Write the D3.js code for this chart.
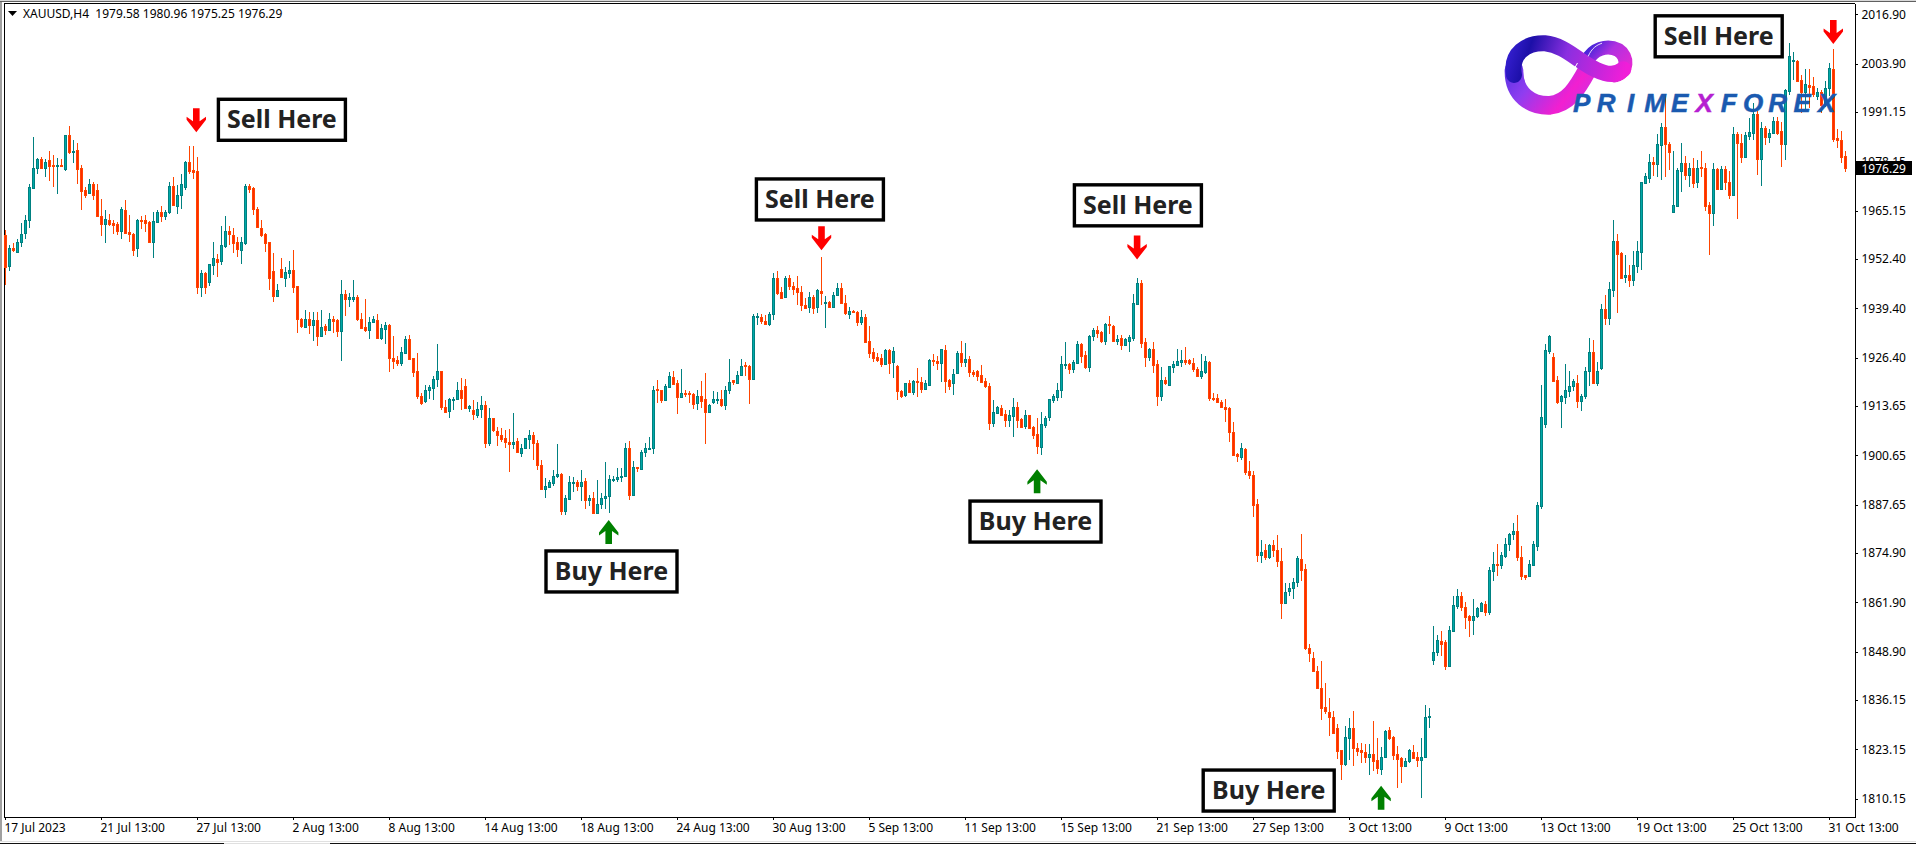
<!DOCTYPE html>
<html>
<head>
<meta charset="utf-8">
<title>XAUUSD,H4</title>
<script src="https://cdn.jsdelivr.net/npm/d3@7"></script>
<style>
html, body { margin: 0; padding: 0; background: #fff; overflow: hidden; }
svg { display: block; }
.axis text { font-family: "Noto Sans", sans-serif; font-size: 12px; fill: #000; }
.axis line, .axis path { stroke: #000; shape-rendering: crispEdges; }
</style>
</head>
<body>
<svg id="canvas"></svg>
<script>
let opens = [
1958.7,1950.6,1955.3,1954.3,1956.9,1959.3,1962.8,1971.0,1976.3,1978.7,
1976.5,1978.5,1977.3,1977.0,1977.3,1976.0,1985.1,1980.6,1981.1,1976.3,
1970.7,1969.9,1972.3,1970.7,1963.8,1961.5,1962.8,1962.0,1961.6,1959.8,
1965.3,1959.4,1959.1,1955.2,1962.7,1962.7,1962.1,1956.8,1962.1,1964.7,
1963.8,1964.8,1971.6,1966.3,1969.3,1971.4,1977.9,1975.8,1975.5,1945.1,
1948.8,1946.4,1950.8,1952.5,1951.9,1955.8,1959.7,1958.7,1956.9,1954.7,
1956.6,1971.6,1971.0,1965.6,1960.7,1958.9,1956.9,1949.2,1942.7,1949.9,
1947.4,1948.6,1949.6,1945.2,1936.7,1934.5,1936.7,1935.1,1936.2,1932.2,
1934.7,1933.7,1936.5,1936.2,1933.5,1943.1,1941.9,1941.8,1942.3,1936.7,
1934.4,1933.7,1935.9,1936.2,1931.6,1934.0,1934.9,1926.4,1925.7,1925.0,
1927.7,1931.2,1926.2,1922.8,1916.4,1915.0,1917.9,1918.5,1920.8,1922.8,
1913.5,1912.4,1915.3,1915.5,1918.0,1918.8,1913.2,1912.7,1911.3,1912.9,
1914.0,1903.9,1910.4,1907.2,1905.9,1905.3,1904.3,1903.7,1904.5,1901.3,
1902.6,1905.0,1905.9,1904.0,1898.2,1891.8,1892.2,1893.4,1895.1,1895.8,
1886.0,1889.1,1893.4,1893.7,1892.6,1894.0,1888.9,1889.3,1885.5,1887.8,
1889.4,1890.0,1894.1,1894.3,1895.0,1895.1,1902.7,1890.2,1897.6,1897.1,
1901.6,1902.4,1902.6,1918.1,1917.8,1915.2,1918.7,1921.4,1919.6,1916.1,
1917.2,1917.1,1916.9,1914.5,1916.2,1915.4,1912.1,1914.7,1915.2,1915.6,
1913.9,1918.0,1920.4,1919.8,1921.9,1924.4,1924.3,1920.8,1937.2,1937.2,
1936.1,1935.2,1938.0,1947.3,1943.7,1942.4,1947.3,1945.4,1944.7,1943.6,
1940.4,1939.8,1942.5,1939.8,1944.1,1940.8,1941.2,1939.7,1943.0,1944.7,
1940.9,1937.9,1938.7,1938.4,1935.8,1937.1,1930.7,1928.0,1926.5,1926.3,
1924.7,1928.4,1925.3,1924.3,1917.7,1916.6,1919.6,1917.3,1920.2,1920.1,
1918.2,1919.2,1925.9,1925.6,1924.9,1928.5,1920.4,1919.8,1922.3,1927.6,
1925.2,1926.0,1922.7,1922.8,1921.8,1920.2,1918.9,1909.2,1911.8,1913.1,
1911.5,1909.9,1911.1,1913.3,1910.2,1908.3,1911.2,1908.1,1906.2,1902.9,
1908.7,1910.7,1915.2,1916.1,1917.8,1924.5,1924.7,1923.4,1925.0,1929.9,
1927.1,1924.0,1932.1,1933.6,1933.1,1930.7,1935.2,1934.7,1930.9,1931.7,
1929.7,1930.8,1931.6,1940.5,1946.0,1930.4,1926.5,1928.6,1924.6,1916.2,
1920.4,1919.2,1923.9,1924.4,1925.2,1925.9,1925.7,1925.1,1923.5,1921.5,
1922.5,1925.2,1915.9,1915.9,1914.8,1913.5,1913.1,1906.7,1900.9,1900.2,
1902.4,1896.4,1895.6,1887.8,1874.5,1875.8,1873.8,1876.9,1875.8,1872.9,
1861.7,1864.8,1865.7,1867.2,1873.4,1870.8,1850.0,1847.3,1843.9,1839.4,
1834.2,1833.1,1831.8,1828.9,1822.9,1819.2,1826.2,1828.9,1823.6,1823.1,
1822.5,1821.1,1822.0,1820.3,1818.0,1821.1,1828.2,1826.3,1821.9,1820.8,
1818.9,1820.1,1822.5,1821.2,1820.4,1821.1,1831.7,1846.6,1848.8,1851.8,
1851.4,1845.0,1854.4,1860.9,1863.7,1860.8,1858.2,1857.3,1858.2,1859.5,
1861.6,1859.3,1870.1,1872.1,1871.7,1874.0,1877.3,1879.9,1880.8,1873.8,
1869.0,1868.8,1871.7,1876.8,1887.2,1908.9,1928.2,1926.7,1920.4,1915.0,
1916.1,1917.7,1919.0,1919.8,1915.0,1916.3,1922.9,1927.8,1919.8,1923.6,
1939.1,1936.8,1944.2,1957.1,1954.1,1947.6,1948.1,1946.8,1950.5,1954.3,
1972.5,1973.8,1977.9,1977.5,1982.5,1987.2,1982.6,1964.8,1966.4,1975.6,
1977.6,1974.5,1976.3,1972.8,1976.6,1976.3,1966.6,1964.4,1976.0,1970.9,
1976.0,1972.8,1969.3,1985.3,1983.0,1979.4,1984.8,1985.7,1990.6,1978.8,
1987.0,1984.5,1985.7,1988.9,1986.2,1982.8,1996.8,2004.5,2004.6,1999.7,
1996.4,1998.4,1998.0,1995.4,1996.3,1993.4,1997.4,2002.4,1984.2,1983.8,1979.58
];

let closes = [
1950.4,1955.2,1954.7,1956.9,1959.1,1962.8,1971.3,1976.3,1978.7,1976.5,
1978.1,1977.0,1977.0,1977.3,1977.0,1985.1,1980.7,1980.8,1976.0,1970.4,
1969.4,1972.3,1969.3,1963.8,1961.5,1962.9,1961.7,1961.4,1959.8,1965.5,
1959.3,1959.1,1954.9,1962.7,1962.5,1961.9,1956.9,1962.3,1964.9,1963.8,
1964.9,1971.6,1966.6,1969.4,1972.3,1977.9,1975.6,1975.4,1945.1,1948.8,
1945.1,1951.0,1952.8,1951.7,1956.0,1959.8,1959.0,1956.7,1955.0,1956.9,
1971.6,1970.9,1965.5,1960.8,1958.7,1956.7,1947.4,1942.7,1944.2,1947.7,
1948.9,1949.6,1945.1,1936.6,1934.8,1936.7,1935.1,1936.2,1932.2,1934.6,
1933.7,1936.5,1936.1,1933.5,1943.3,1941.9,1942.5,1942.3,1936.6,1934.3,
1933.7,1935.9,1936.5,1931.5,1934.1,1934.9,1926.4,1925.6,1925.0,1927.8,
1931.2,1926.0,1922.7,1916.3,1914.5,1918.0,1918.6,1920.9,1922.8,1913.4,
1912.1,1915.4,1915.6,1918.0,1915.8,1913.2,1913.6,1911.6,1913.0,1914.0,
1903.9,1910.4,1907.3,1906.0,1905.0,1904.2,1903.7,1904.3,1901.5,1902.7,
1905.1,1905.9,1904.0,1898.1,1891.7,1892.7,1893.5,1895.3,1895.8,1886.0,
1889.3,1893.5,1893.6,1892.7,1893.7,1888.9,1889.3,1885.5,1887.9,1889.5,
1890.0,1894.3,1894.5,1895.0,1895.3,1902.7,1890.2,1897.7,1897.2,1901.6,
1902.7,1902.7,1918.0,1917.9,1915.3,1918.8,1921.5,1919.4,1916.1,1917.2,
1916.7,1916.9,1914.3,1916.2,1915.0,1912.1,1914.0,1915.4,1915.6,1913.9,
1918.0,1920.1,1919.9,1921.9,1924.3,1924.1,1920.8,1937.3,1937.3,1936.1,
1935.3,1938.0,1947.3,1943.5,1942.1,1947.3,1945.3,1944.5,1943.6,1940.2,
1939.6,1942.5,1939.5,1944.2,1943.5,1941.2,1939.7,1943.0,1944.7,1940.8,
1938.2,1938.6,1938.4,1935.8,1937.0,1930.6,1927.7,1926.3,1925.8,1924.7,
1928.4,1925.0,1928.1,1917.6,1916.3,1919.6,1917.3,1920.2,1919.9,1918.2,
1919.6,1925.9,1925.5,1925.0,1928.6,1920.3,1919.0,1922.2,1927.5,1925.3,
1926.0,1922.7,1922.1,1921.6,1919.9,1919.0,1909.2,1912.0,1913.3,1911.3,
1910.0,1911.2,1913.3,1910.0,1908.0,1911.2,1907.8,1906.1,1903.2,1908.9,
1910.4,1915.4,1916.2,1918.0,1924.6,1924.7,1923.4,1925.2,1929.9,1926.8,
1923.9,1932.2,1933.6,1933.0,1930.7,1935.2,1934.9,1930.7,1931.3,1929.7,
1931.3,1931.8,1940.7,1946.0,1930.3,1926.5,1928.8,1924.5,1916.2,1920.4,
1919.7,1924.1,1924.6,1925.5,1925.9,1925.2,1925.0,1923.5,1921.6,1922.8,
1925.5,1915.8,1915.4,1914.8,1913.4,1912.8,1906.7,1900.7,1900.4,1902.5,
1896.3,1895.4,1887.5,1874.5,1875.1,1873.9,1877.0,1875.8,1872.9,1861.7,
1864.7,1865.8,1867.4,1873.5,1870.5,1849.8,1848.6,1843.8,1839.2,1834.1,
1833.4,1831.7,1827.4,1822.7,1819.2,1826.5,1828.9,1823.5,1822.7,1822.5,
1821.1,1822.0,1820.1,1818.2,1821.1,1828.1,1826.1,1821.7,1820.7,1818.9,
1820.2,1822.9,1821.0,1820.4,1821.2,1831.8,1831.9,1848.9,1851.9,1850.9,
1845.0,1854.5,1861.3,1863.7,1860.7,1858.1,1857.3,1858.4,1860.3,1861.7,
1859.4,1870.5,1872.1,1871.8,1874.3,1877.4,1880.0,1880.8,1873.9,1868.8,
1868.6,1871.9,1877.2,1887.5,1910.7,1928.3,1932.2,1920.3,1914.8,1916.2,
1918.0,1919.0,1920.2,1915.0,1916.4,1923.0,1927.8,1919.7,1923.0,1939.1,
1936.9,1944.4,1957.1,1953.8,1947.3,1948.3,1946.8,1950.7,1954.4,1972.7,
1974.3,1977.9,1977.5,1982.6,1987.2,1982.6,1980.7,1966.6,1975.9,1977.6,
1974.5,1976.3,1972.5,1976.5,1976.5,1966.4,1964.6,1976.0,1970.9,1976.0,
1972.8,1969.2,1985.3,1983.0,1979.4,1985.1,1985.9,1990.6,1978.8,1987.0,
1984.6,1985.5,1988.9,1985.5,1982.8,1996.9,2005.9,2004.9,1999.4,1996.4,
1998.5,1997.8,1995.8,1996.3,1993.0,1997.4,2002.7,1984.1,1983.8,1979.3,1976.29
];

let highs = [
1960.0,1956.1,1956.5,1957.8,1961.8,1964.0,1972.1,1984.5,1978.9,1979.2,
1978.7,1980.9,1979.8,1978.9,1978.7,1985.2,1987.4,1983.9,1983.1,1977.3,
1971.4,1973.6,1972.8,1972.3,1968.1,1965.3,1964.2,1962.8,1962.2,1966.0,
1967.9,1964.0,1959.3,1963.0,1963.7,1964.0,1962.5,1964.9,1965.3,1966.3,
1965.3,1972.6,1974.1,1971.9,1974.8,1978.3,1982.2,1982.2,1979.2,1949.6,
1949.0,1951.2,1956.8,1953.6,1961.1,1963.7,1961.1,1960.7,1958.3,1958.3,
1972.3,1972.3,1971.3,1966.0,1962.8,1959.3,1956.9,1953.9,1945.8,1952.8,
1950.2,1951.8,1954.7,1945.3,1936.9,1938.9,1938.5,1938.5,1938.4,1938.9,
1935.4,1938.1,1937.5,1936.5,1946.8,1944.2,1943.5,1946.8,1942.9,1938.2,
1941.8,1937.1,1937.5,1938.0,1935.4,1935.8,1935.4,1932.1,1926.8,1929.1,
1932.1,1932.3,1926.4,1927.5,1917.0,1919.1,1919.1,1921.5,1930.1,1922.8,
1915.2,1915.7,1916.0,1919.9,1921.0,1920.7,1914.0,1915.2,1914.7,1916.2,
1914.9,1913.1,1910.6,1908.0,1907.8,1907.3,1907.5,1911.7,1905.3,1903.6,
1905.3,1907.3,1906.7,1904.6,1899.5,1894.8,1894.1,1896.7,1903.6,1896.0,
1890.1,1895.1,1895.0,1894.1,1896.7,1894.8,1890.2,1891.1,1894.1,1890.6,
1898.8,1895.4,1895.1,1897.2,1897.2,1903.9,1904.4,1899.1,1897.7,1902.0,
1904.0,1905.5,1918.9,1920.5,1918.0,1919.4,1922.7,1922.8,1920.6,1923.3,
1918.0,1917.7,1917.1,1918.0,1920.2,1922.3,1914.3,1917.6,1917.3,1917.8,
1918.9,1926.0,1920.6,1922.9,1926.0,1925.3,1924.4,1938.0,1938.2,1937.9,
1937.6,1938.5,1948.8,1949.2,1944.9,1947.9,1948.1,1946.4,1947.9,1945.2,
1942.0,1943.8,1942.9,1944.6,1953.0,1942.6,1941.4,1943.8,1946.0,1946.2,
1942.9,1939.8,1938.9,1938.7,1938.9,1938.0,1934.7,1928.9,1927.5,1927.3,
1928.7,1928.6,1929.1,1924.4,1918.0,1919.8,1920.6,1920.5,1923.6,1921.4,
1920.5,1926.1,1927.3,1926.9,1928.8,1929.7,1920.9,1923.3,1928.1,1930.7,
1930.2,1926.8,1923.1,1923.1,1924.4,1921.1,1919.6,1915.2,1913.6,1913.9,
1912.6,1912.6,1915.7,1914.6,1910.4,1912.7,1911.4,1908.5,1910.4,1912.0,
1911.0,1915.5,1916.9,1919.6,1926.8,1930.5,1924.9,1925.7,1930.7,1930.3,
1928.2,1932.5,1934.1,1934.7,1933.5,1935.5,1937.3,1935.1,1932.3,1932.3,
1931.7,1932.3,1943.3,1947.4,1946.8,1931.5,1928.9,1930.4,1925.9,1923.9,
1921.3,1924.2,1925.5,1928.6,1928.4,1929.2,1926.0,1926.2,1924.0,1927.3,
1926.8,1925.5,1917.2,1916.8,1915.2,1915.6,1913.4,1909.4,1901.3,1903.8,
1902.5,1899.1,1896.4,1889.1,1878.3,1877.4,1877.3,1878.3,1879.6,1876.3,
1867.1,1867.1,1868.4,1874.1,1879.9,1871.9,1850.8,1848.9,1845.0,1846.4,
1840.6,1836.8,1833.4,1829.8,1823.1,1829.2,1831.3,1833.4,1824.9,1824.9,
1824.7,1824.5,1830.6,1826.2,1823.7,1828.2,1829.1,1826.6,1824.0,1821.1,
1820.9,1823.2,1824.4,1822.4,1826.1,1834.8,1834.0,1855.6,1853.2,1854.3,
1852.1,1855.6,1863.5,1865.3,1864.6,1861.9,1858.5,1862.7,1860.7,1862.1,
1862.2,1871.1,1875.1,1877.2,1875.1,1878.8,1880.1,1882.8,1884.9,1876.7,
1869.0,1873.0,1878.0,1888.3,1919.1,1929.9,1932.3,1927.5,1921.5,1916.5,
1924.7,1922.8,1920.7,1921.8,1916.9,1923.9,1931.5,1931.0,1925.2,1940.5,
1942.9,1946.3,1962.7,1959.0,1954.2,1953.4,1950.8,1954.5,1957.1,1972.8,
1975.2,1980.1,1979.4,1985.3,1988.2,1995.8,1983.3,1980.9,1976.3,1982.9,
1979.6,1977.6,1979.1,1978.5,1980.8,1977.8,1967.3,1977.6,1976.3,1976.9,
1976.9,1975.7,1987.1,1986.0,1985.3,1986.0,1989.7,1993.4,1991.4,1988.6,
1987.4,1986.6,1989.9,1989.9,1988.6,1997.1,2009.3,2007.0,2004.9,2000.9,
2002.6,2002.6,2000.3,1997.6,1996.9,1999.3,2004.0,2007.7,1986.6,1986.1,1980.96
];

let lows = [
1945.5,1949.3,1954.3,1954.3,1955.6,1957.8,1960.6,1970.8,1974.9,1976.3,
1974.1,1972.9,1971.4,1969.5,1976.7,1975.7,1980.0,1977.8,1972.2,1965.3,
1968.4,1969.7,1967.9,1963.5,1958.4,1956.7,1961.1,1958.9,1958.7,1957.8,
1958.9,1956.9,1953.3,1953.0,1960.3,1959.4,1956.8,1952.6,1961.9,1962.2,
1962.7,1964.2,1966.3,1964.2,1965.5,1970.6,1974.9,1973.5,1943.2,1942.4,
1943.3,1945.3,1948.2,1947.7,1950.8,1955.2,1956.1,1953.9,1953.0,1951.2,
1956.2,1969.7,1964.0,1960.5,1958.3,1954.3,1944.2,1941.1,1942.7,1947.5,
1945.1,1947.5,1943.5,1933.0,1934.3,1934.3,1932.6,1930.7,1929.4,1932.1,
1932.3,1933.7,1933.0,1931.9,1925.6,1937.3,1939.8,1941.1,1936.1,1933.9,
1933.1,1931.4,1935.5,1931.3,1931.1,1930.0,1922.7,1923.4,1924.2,1924.2,
1927.3,1925.7,1921.3,1915.5,1913.9,1914.5,1915.4,1915.2,1918.7,1912.6,
1912.0,1910.4,1912.6,1915.2,1912.6,1912.9,1912.0,1909.9,1910.4,1910.4,
1902.5,1903.1,1906.8,1903.1,1904.1,1902.7,1896.3,1902.4,1901.3,1900.2,
1902.3,1902.4,1899.4,1896.7,1891.5,1889.3,1892.0,1892.5,1894.8,1884.8,
1884.8,1888.8,1891.0,1891.2,1888.6,1886.4,1887.2,1885.4,1885.4,1886.6,
1886.4,1885.5,1893.6,1893.6,1893.6,1895.0,1888.8,1890.0,1896.3,1897.0,
1900.1,1902.0,1901.1,1914.5,1914.5,1915.0,1918.7,1919.1,1911.6,1916.0,
1916.1,1914.5,1912.9,1912.5,1913.2,1903.7,1911.8,1914.1,1914.1,1913.4,
1912.5,1916.8,1919.1,1919.4,1921.8,1921.5,1914.1,1920.8,1934.9,1935.4,
1934.9,1934.7,1936.3,1942.9,1941.9,1942.2,1944.2,1943.0,1940.2,1938.6,
1939.2,1938.3,1937.9,1938.2,1940.2,1934.2,1939.4,1939.4,1942.8,1940.5,
1937.6,1936.5,1938.2,1934.7,1934.9,1930.5,1926.4,1925.2,1925.2,1924.0,
1924.4,1922.2,1921.0,1915.2,1915.8,1916.0,1917.1,1916.5,1916.0,1917.0,
1917.8,1919.1,1924.2,1923.1,1920.0,1917.0,1917.8,1916.6,1922.0,1924.0,
1924.0,1921.3,1921.3,1920.3,1919.8,1918.4,1907.3,1908.2,1911.5,1911.1,
1908.2,1908.0,1905.5,1907.8,1907.8,1907.5,1907.5,1904.9,1900.9,1900.7,
1907.8,1909.6,1914.5,1914.9,1915.7,1923.5,1922.1,1922.3,1924.9,1925.0,
1923.5,1922.6,1930.7,1931.6,1930.3,1929.7,1932.6,1930.5,1929.7,1928.4,
1929.4,1927.8,1930.8,1940.2,1929.0,1923.9,1925.5,1922.3,1913.6,1914.9,
1919.1,1919.2,1922.4,1924.2,1923.9,1924.4,1924.4,1922.7,1921.4,1920.7,
1922.1,1914.9,1914.9,1914.5,1913.2,1909.5,1904.3,1900.4,1898.8,1899.4,
1895.4,1894.5,1884.4,1872.5,1872.3,1873.2,1873.3,1873.9,1871.2,1857.5,
1861.5,1863.5,1862.8,1865.9,1867.5,1849.3,1846.1,1843.7,1839.0,1830.8,
1832.6,1826.8,1827.1,1820.7,1815.0,1818.8,1820.3,1818.9,1821.3,1819.6,
1819.6,1816.3,1817.4,1816.7,1816.3,1821.0,1825.6,1820.3,1813.0,1814.4,
1818.5,1819.6,1820.7,1818.5,1810.3,1821.0,1828.7,1845.4,1847.7,1847.7,
1844.0,1844.9,1854.3,1860.1,1859.5,1854.8,1852.7,1853.2,1857.9,1859.3,
1858.3,1858.5,1867.5,1868.8,1870.6,1873.7,1875.5,1878.3,1872.7,1867.7,
1867.7,1868.7,1871.5,1875.5,1886.5,1907.9,1927.3,1920.3,1914.1,1907.9,
1914.1,1916.1,1917.6,1913.1,1912.3,1915.4,1918.9,1919.4,1918.9,1923.1,
1935.0,1935.0,1942.4,1938.1,1947.1,1946.0,1945.0,1945.2,1948.7,1949.5,
1972.3,1972.5,1974.3,1974.1,1973.2,1974.1,1975.9,1964.8,1966.4,1970.1,
1973.2,1971.4,1971.0,1971.0,1974.1,1965.0,1953.4,1961.2,1970.6,1970.6,
1970.7,1968.2,1969.2,1962.9,1977.6,1979.2,1983.8,1983.9,1974.6,1971.7,
1982.4,1982.9,1985.5,1985.1,1976.7,1978.5,1995.6,1999.6,1999.1,1990.8,
1991.7,1992.1,1995.2,1994.3,1990.8,1992.6,1995.4,1983.3,1981.6,1977.8,1975.25
];

let priceTicks = [2016.90, 2003.90, 1991.15, 1978.15, 1965.15, 1952.40, 1939.40, 1926.40, 1913.65,
	1900.65, 1887.65, 1874.90, 1861.90, 1848.90, 1836.15, 1823.15, 1810.15];
let timeTickIndex = [0, 24, 48, 72, 96, 120, 144, 168, 192, 216, 240, 264, 288, 312, 336, 360, 384, 408, 432, 456];
let timeTickLabels = ['17 Jul 2023', '21 Jul 13:00', '27 Jul 13:00', '2 Aug 13:00', '8 Aug 13:00', '14 Aug 13:00',
	'18 Aug 13:00', '24 Aug 13:00', '30 Aug 13:00', '5 Sep 13:00', '11 Sep 13:00', '15 Sep 13:00', '21 Sep 13:00',
	'27 Sep 13:00', '3 Oct 13:00', '9 Oct 13:00', '13 Oct 13:00', '19 Oct 13:00', '25 Oct 13:00', '31 Oct 13:00'];

let headerText = 'XAUUSD,H4  1979.58 1980.96 1975.25 1976.29';
let lastPrice = 1976.29;

// signal arrows: candle index and price at the arrow tip
let sellArrowIndex = [47.7, 204.0, 282.9, 456.95];
let sellArrowPrice = [1985.8, 1954.7, 1952.3, 2009.1];
let buyArrowIndex = [150.8, 257.9, 343.9];
let buyArrowPrice = [1883.6, 1897.0, 1813.55];

// label boxes: text, candle index and price at the box centre
let labelTexts = ['Sell Here', 'Sell Here', 'Sell Here', 'Sell Here', 'Buy Here', 'Buy Here', 'Buy Here'];
let labelIndex = [69.1, 203.6, 283.1, 428.3, 151.5, 257.5, 315.8];
let labelPrice = [1989.1, 1968.1, 1966.55, 2011.1, 1870.05, 1883.2, 1812.3];

let logoLetters = ['P', 'R', 'I', 'M', 'E', 'X', 'F', 'O', 'R', 'E', 'X'];

let width = 1916;
let height = 844;

let canvas = d3.select('#canvas').attr('width', width).attr('height', height);

let plotLeft = 4;
let plotRight = 1854.5;
let plotTop = 3.5;
let plotBottom = 817;

let xScale = d3.scaleLinear().domain([-0.375, 462.25]).range([plotLeft, plotRight]);
let yScale = d3.scaleLinear().domain([1805.33, 2019.75]).range([plotBottom, plotTop]);

let candles = opens.map((o, i) => ({ i, o, c: closes[i], h: highs[i], l: lows[i] }));

// window frame
canvas.append('rect').attr('width', width).attr('height', height).attr('fill', '#fff');
canvas.append('rect').attr('x', 0).attr('y', 0).attr('width', 2).attr('height', 841).attr('fill', '#a0a0a0');
canvas.append('rect').attr('x', 0).attr('y', 0).attr('width', width).attr('height', 1).attr('fill', '#d8d8d8');
canvas.append('rect').attr('x', 0).attr('y', 1).attr('width', width).attr('height', 1).attr('fill', '#606060');
canvas.append('rect').attr('x', 0).attr('y', 841).attr('width', width).attr('height', 1).attr('fill', '#e0e0e0');
canvas.append('rect').attr('x', 0).attr('y', 843).attr('width', 224).attr('height', 1).attr('fill', '#111');
canvas.append('rect').attr('x', 224).attr('y', 843).attr('width', 106).attr('height', 1).attr('fill', '#e0e0e0');
canvas.append('rect').attr('x', 330).attr('y', 843).attr('width', width - 330).attr('height', 1).attr('fill', '#111');

canvas.append('line').attr('x1', plotLeft + 0.5).attr('x2', plotLeft + 0.5).attr('y1', plotTop).attr('y2', plotBottom)
	.attr('stroke', '#000').attr('shape-rendering', 'crispEdges');
canvas.append('line').attr('x1', plotLeft).attr('x2', plotRight).attr('y1', plotTop).attr('y2', plotTop)
	.attr('stroke', '#000').attr('shape-rendering', 'crispEdges');

let drawCandles = () => {
	let g = canvas.append('g').attr('shape-rendering', 'crispEdges');
	let snap = v => Math.round(v);

	g.selectAll('.wick').data(candles).enter().append('rect')
		.attr('class', 'wick')
		.attr('x', d => xScale(d.i) - 0.5)
		.attr('y', d => snap(yScale(d.h)))
		.attr('width', 1)
		.attr('height', d => Math.max(1, snap(yScale(d.l)) - snap(yScale(d.h))))
		.attr('fill', d => (d.c >= d.o ? '#008080' : '#ff4500'));

	g.selectAll('.body').data(candles).enter().append('rect')
		.attr('class', 'body')
		.attr('x', d => xScale(d.i) - 1)
		.attr('y', d => snap(yScale(Math.max(d.o, d.c))) + 0.5)
		.attr('width', 2)
		.attr('height', d => Math.max(1, snap(yScale(Math.min(d.o, d.c))) - snap(yScale(Math.max(d.o, d.c)))))
		.attr('fill', d => (d.c >= d.o ? '#00a8a8' : '#ff2a00'))
		.attr('stroke', d => (d.c >= d.o ? '#008080' : '#ff4500'))
		.attr('stroke-width', 1);
};

let drawAxes = () => {
	let yAxis = d3.axisRight(yScale).tickValues(priceTicks).tickFormat(d3.format('.2f')).tickSize(3).tickSizeOuter(0);
	let yGroup = canvas.append('g').attr('class', 'axis').attr('transform', `translate(${plotRight}, 0)`).call(yAxis);
	yGroup.selectAll('text').attr('x', 7);

	let xAxis = d3.axisBottom(xScale).tickValues(timeTickIndex).tickFormat((d, i) => timeTickLabels[i])
		.tickSize(3).tickSizeOuter(0).offset(0);
	let xGroup = canvas.append('g').attr('class', 'axis').attr('transform', `translate(0, ${plotBottom})`).call(xAxis);
	xGroup.selectAll('text').attr('text-anchor', 'start').attr('x', -1).attr('y', 15).attr('dy', 0);
	xGroup.selectAll('.domain').attr('stroke', '#000');
};

let drawHeader = () => {
	canvas.append('path').attr('d', d3.line()([[8, 11], [17, 11], [12.5, 16]]) + 'Z').attr('fill', '#000');
	canvas.append('text').attr('x', 23).attr('y', 18)
		.style('white-space', 'pre')
		.attr('font-family', '"Noto Sans", sans-serif').attr('font-size', 12).attr('fill', '#000')
		.text(headerText);
};

let drawPriceTag = () => {
	let ty = yScale(lastPrice);
	canvas.append('rect').attr('x', 1856).attr('y', Math.round(ty) - 7).attr('width', 56).attr('height', 14).attr('fill', '#000');
	canvas.append('text').attr('x', plotRight + 7).attr('y', ty).attr('dy', '0.36em')
		.attr('font-family', '"Noto Sans", sans-serif').attr('font-size', 12).attr('fill', '#fff')
		.text(d3.format('.2f')(lastPrice));
};

let drawLogo = () => {
	let defs = canvas.append('defs');
	let addGradient = (id, stops, x1, y1, x2, y2) => {
		let g = defs.append('linearGradient').attr('id', id).attr('gradientUnits', 'userSpaceOnUse')
			.attr('x1', x1).attr('y1', y1).attr('x2', x2).attr('y2', y2);
		stops.forEach(s => g.append('stop').attr('offset', s[0]).attr('stop-color', s[1]));
	};
	addGradient('ringGrad', [[0, '#4a2fe0'], [0.4, '#8f3df0'], [0.8, '#f21fd0'], [1, '#d030e0']], 50, 100, 270, 270);
	addGradient('bandGrad', [[0, '#3a22d8'], [0.2, '#1c0fa8'], [0.5, '#8a2fe0'], [1, '#f01ed8']], 50, 60, 400, 170);
	addGradient('rightGrad', [[0, '#2020d8'], [0.45, '#b030e0'], [1, '#f028d0']], 290, 60, 420, 170);

	// drawn in the 3x space of the logo crop
	let g = canvas.append('g').attr('transform', 'translate(1490, 20) scale(0.3333)')
		.attr('fill', 'none').attr('stroke-linecap', 'round');
	g.append('path').attr('d', 'M72,150 C70,225 125,258 180,256 C235,250 262,205 292,150')
		.attr('stroke', 'url(#ringGrad)').attr('stroke-width', 56);
	g.append('path').attr('d', 'M292,122 C308,88 350,72 385,90 C416,110 414,155 375,167')
		.attr('stroke', 'url(#rightGrad)').attr('stroke-width', 42);
	g.append('path').attr('d', 'M72,165 C60,100 110,68 165,70 C225,75 265,125 320,150 C345,162 375,170 400,148')
		.attr('stroke', 'url(#bandGrad)').attr('stroke-width', 48);
	g.append('path').attr('d', 'M108,135 C125,105 165,95 205,115').attr('stroke', '#fff').attr('stroke-width', 2.5);
	g.append('path').attr('d', 'M195,210 C225,190 240,170 262,130').attr('stroke', '#fff').attr('stroke-width', 3);
	g.append('path').attr('d', 'M295,108 C305,85 320,75 335,70').attr('stroke', '#fff').attr('stroke-width', 2.5);
	g.append('path').attr('d', 'M310,185 C340,195 385,195 410,175').attr('stroke', '#fff').attr('stroke-width', 3);

	let logoScale = d3.scalePoint().domain(d3.range(logoLetters.length)).range([1581.7, 1826.7]);
	canvas.append('g').selectAll('text').data(logoLetters).enter().append('text')
		.attr('x', (d, i) => logoScale(i)).attr('y', 111.5).attr('text-anchor', 'middle')
		.attr('font-family', '"Liberation Sans", sans-serif').attr('font-size', 26)
		.attr('font-weight', 700).attr('font-style', 'italic')
		.attr('fill', (d, i) => (i === 5 ? '#b51fd1' : '#1a5ab0'))
		.attr('stroke', (d, i) => (i === 5 ? '#b51fd1' : '#1a5ab0')).attr('stroke-width', 0.5)
		.text(d => d);
};

let drawArrows = () => {
	let arrow = (i, price, dir, color) => {
		let tipX = xScale(i);
		let tipY = yScale(price);
		// dir = 1 points down (tip at the bottom), dir = -1 points up
		let pts = [[0, 0], [-9.7, -12.5 * dir], [-9.7, -15.5 * dir], [-3.3, -11 * dir], [-3.3, -24 * dir],
			[3.3, -24 * dir], [3.3, -11 * dir], [9.7, -15.5 * dir], [9.7, -12.5 * dir]];
		canvas.append('path')
			.attr('d', d3.line()(pts.map(p => [tipX + p[0], tipY + p[1]])) + 'Z')
			.attr('fill', color);
	};
	sellArrowIndex.forEach((i, k) => arrow(i, sellArrowPrice[k], 1, '#ff0000'));
	buyArrowIndex.forEach((i, k) => arrow(i, buyArrowPrice[k], -1, '#008000'));
};

let drawLabels = () => {
	let g = canvas.append('g').selectAll('g').data(labelTexts).enter().append('g')
		.attr('transform', (d, i) => `translate(${xScale(labelIndex[i])}, ${yScale(labelPrice[i])})`);
	g.append('rect')
		.attr('x', d => (d[0] === 'S' ? -63.5 : -65.5))
		.attr('y', -20.5)
		.attr('width', d => (d[0] === 'S' ? 127 : 131))
		.attr('height', 41)
		.attr('fill', '#fff').attr('stroke', '#000').attr('stroke-width', 3.4);
	g.append('text').attr('text-anchor', 'middle').attr('dy', '0.33em')
		.attr('font-family', '"Noto Sans", sans-serif').attr('font-weight', 700).attr('font-size', 25)
		.attr('fill', '#222').text(d => d);
};

drawCandles();
drawAxes();
drawHeader();
drawPriceTag();
drawLogo();
drawArrows();
drawLabels();
</script>
</body>
</html>
